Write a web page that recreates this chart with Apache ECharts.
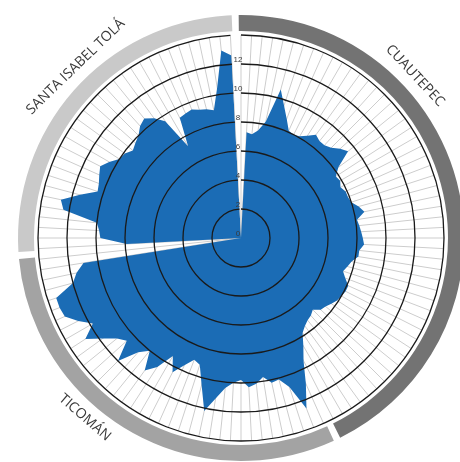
<!DOCTYPE html>
<html><head><meta charset="utf-8">
<script src="https://cdn.jsdelivr.net/npm/echarts@6/dist/echarts.min.js"></script>
<style>html,body{margin:0;padding:0;background:#fff}#c{width:460px;height:462px}</style>
</head><body><div id="c"></div>
<script>
// Zones (outer bands), clockwise from the top
const zoneNames = ['CUAUTEPEC', 'TICOMÁN', 'SANTA ISABEL TOLÁ'];
// Values per station, clockwise from the top, one per 3 degrees
const cuautepecValues = [0, 7.3, 7.2, 7.5, 8.2, 10.6, 9.6, 8.8, 8.1, 8.0, 8.1, 8.4, 8.8, 8.6, 8.6, 8.8, 9.2, 9.5, 8.3, 7.8,
  7.9, 7.7, 7.9, 7.9, 8.0, 8.4, 8.7, 8.1, 8.2, 8.3, 8.4, 8.5, 8.2, 8.2, 7.8, 7.6, 7.4, 7.7, 8.1, 8.1,
  8.0, 7.9, 7.7, 7.5, 7.4, 7.0, 7.2, 7.3, 7.5, 7.8, 8.6, 9.5];
const ticomanValues = [11.0, 12.6, 10.8, 10.1, 10.2, 9.7, 10.1, 10.3, 9.8, 10.0, 10.4, 11.2, 12.2, 10.5, 9.2, 9.0, 9.6, 10.4, 9.4, 10.6,
  11.3, 10.0, 10.6, 12.0, 10.6, 11.0, 11.8, 12.8, 11.8, 12.6, 13.3, 13.4, 13.4, 12.0, 11.6, 11.0, 0];
const santaIsabelValues = [7.9, 9.7, 9.8, 10.0, 12.4, 12.7, 11.5, 10.4, 10.5, 10.7, 10.9, 10.5, 10.0, 9.9, 9.6, 9.8, 10.0, 10.4, 10.6, 10.2,
  9.6, 7.3, 9.3, 9.4, 9.5, 9.3, 9.2, 9.0, 10.5, 13.0, 12.6];
const radiusTickLabels = [0, 2, 4, 6, 8, 10, 12];

const zoneValues = [cuautepecValues, ticomanValues, santaIsabelValues];
const categories = [];
zoneValues.forEach((arr, z) => arr.forEach((v, i) => categories.push(zoneNames[z] + ' ' + (i + 1))));
const values = [].concat(...zoneValues);
const zoneCounts = zoneValues.map(a => a.length);

// layout / style
const cx = 241, cy = 238, R = 203;
const bandColors = ['#737373', '#a3a3a3', '#c9c9c9'];
const labelAngles = [47, 221, 316];
const labelRadius = 238;

const chart = echarts.init(document.getElementById('c'));
const step = 360 / values.length;
const graphics = zoneNames.map((name, i) => {
  const a = labelAngles[i] * Math.PI / 180;
  const rot = (labelAngles[i] > 90 && labelAngles[i] < 270) ? -(labelAngles[i] - 180) : -labelAngles[i];
  return {
    type: 'text', x: cx + labelRadius * Math.sin(a), y: cy - labelRadius * Math.cos(a),
    rotation: rot * Math.PI / 180, silent: true,
    style: { text: name, fill: '#3a3a3a', font: '14px "Open Sans"', align: 'center', verticalAlign: 'middle' }
  };
});

chart.setOption({
  animation: false,
  polar: { center: [cx, cy], radius: R },
  angleAxis: {
    type: 'category', data: categories, startAngle: 90, clockwise: true, boundaryGap: false,
    axisLine: { show: false }, axisTick: { show: false },
    axisLabel: { show: false, interval: 0 },
    splitLine: { show: true, interval: 0, lineStyle: { color: '#cdcdcd', width: 1 } },
    z: 1
  },
  radiusAxis: {
    type: 'value', min: 0, max: 14, interval: 2, z: 10,
    axisLine: { show: false }, axisTick: { show: false },
    axisLabel: {
      formatter: v => radiusTickLabels.includes(v) ? String(v) : '',
      color: '#3a3a3a', fontSize: 8, margin: 3, align: 'center', verticalAlign: 'bottom'
    },
    splitLine: { show: true, lineStyle: { color: '#1a1a1a', width: 1.3 } }
  },
  series: [
    {
      type: 'line', coordinateSystem: 'polar', data: values, symbol: 'none', silent: true,
      lineStyle: { width: 0 }, areaStyle: { color: '#1b6cb5', opacity: 1 }, z: 2
    },
    {
      type: 'pie', center: [cx, cy], radius: [207, 223], startAngle: 90 + step / 2, padAngle: 1.8,
      silent: true, label: { show: false }, labelLine: { show: false }, z: 1,
      data: zoneNames.map((n, i) => ({ name: n, value: zoneCounts[i], itemStyle: { color: bandColors[i] } }))
    }
  ],
  graphic: graphics
});
</script></body></html>
